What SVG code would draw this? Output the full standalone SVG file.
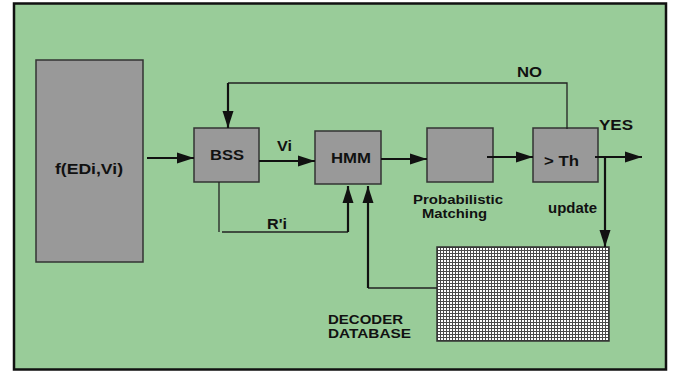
<svg xmlns="http://www.w3.org/2000/svg" width="680" height="371" viewBox="0 0 680 371">
<style>
.box{fill:#999999;stroke:#333333;stroke-width:1.5}
.t{font-family:"Liberation Sans",Arial,sans-serif;font-weight:bold;font-size:14.5px;fill:#111111;text-anchor:middle}
.s{font-size:12px}
.thin{fill:none;stroke:#222222;stroke-width:1.3}
.thick{fill:none;stroke:#111111;stroke-width:2.2}
</style>
<defs>
<marker id="ah" markerUnits="userSpaceOnUse" markerWidth="18" markerHeight="12" refX="17" refY="6" orient="auto" viewBox="0 0 18 12">
<path d="M0,0.5 L17,6 L0,11.5 Z" fill="#111111"/>
</marker>
<pattern id="grid" patternUnits="userSpaceOnUse" x="437" y="247" width="3" height="3">
<rect width="3" height="3" fill="#ffffff"/>
<rect width="1" height="3" fill="#4a4a4a"/>
<rect width="3" height="1" fill="#4a4a4a"/>
</pattern>
</defs>
<rect x="0" y="0" width="680" height="371" fill="#ffffff"/>
<g id="frame">
<rect x="14" y="3.5" width="652" height="366" fill="#99cc99" stroke="#111111" stroke-width="2.5"/>
</g>
<g id="source">
<rect class="box" x="36" y="60" width="107" height="202"/>
<text class="t" x="89" y="174" textLength="68" lengthAdjust="spacingAndGlyphs">f(EDi,Vi)</text>
</g>
<g id="bss">
<rect class="box" x="194" y="128" width="65" height="54"/>
<text class="t" x="227" y="160" textLength="34" lengthAdjust="spacingAndGlyphs">BSS</text>
</g>
<g id="hmm">
<rect class="box" x="315" y="131" width="66" height="53"/>
<text class="t" x="351" y="163" textLength="40" lengthAdjust="spacingAndGlyphs">HMM</text>
</g>
<g id="prob">
<rect class="box" x="427" y="128" width="66" height="54"/>
<text class="t s" x="458" y="204" textLength="90" lengthAdjust="spacingAndGlyphs">Probabilistic</text>
<text class="t s" x="454.5" y="217.5" textLength="65" lengthAdjust="spacingAndGlyphs">Matching</text>
</g>
<g id="threshold">
<rect class="box" x="533" y="128" width="65" height="54"/>
<text class="t" x="561.5" y="166" textLength="35" lengthAdjust="spacingAndGlyphs">&gt; Th</text>
</g>
<g id="database">
<rect x="437" y="247" width="172" height="94" fill="url(#grid)" stroke="#333333" stroke-width="1.5"/>
<text class="t s" x="328" y="324" style="text-anchor:start" textLength="75" lengthAdjust="spacingAndGlyphs">DECODER</text>
<text class="t s" x="328" y="337.5" style="text-anchor:start" textLength="83" lengthAdjust="spacingAndGlyphs">DATABASE</text>
</g>
<g id="connectors">
<path class="thick" d="M147,158 H194" marker-end="url(#ah)"/>
<path class="thick" d="M259,161 H315" marker-end="url(#ah)"/>
<path class="thick" d="M381,159 H427" marker-end="url(#ah)"/>
<path class="thick" d="M487,157 H533" marker-end="url(#ah)"/>
<path class="thick" d="M595,157 H642" marker-end="url(#ah)"/>
<path class="thick" d="M605,157 V247" marker-end="url(#ah)"/>
<path class="thin" d="M567,129 V83 H228"/>
<path class="thick" d="M228,83 V128" marker-end="url(#ah)"/>
<path class="thin" d="M219,182 V232"/>
<path class="thin" d="M222,232 H348"/>
<path class="thick" d="M348,232 V186" marker-end="url(#ah)"/>
<path class="thin" d="M437,288 H368"/>
<path class="thick" d="M368,288 V186" marker-end="url(#ah)"/>
<text class="t" x="284.5" y="151" textLength="15" lengthAdjust="spacingAndGlyphs">Vi</text>
<text class="t" x="277" y="229" textLength="20" lengthAdjust="spacingAndGlyphs">R'i</text>
<text class="t" x="529.5" y="77" textLength="25" lengthAdjust="spacingAndGlyphs">NO</text>
<text class="t" x="616" y="130" textLength="34" lengthAdjust="spacingAndGlyphs">YES</text>
<text class="t" x="572.5" y="213" textLength="49" lengthAdjust="spacingAndGlyphs">update</text>
</g>
</svg>
